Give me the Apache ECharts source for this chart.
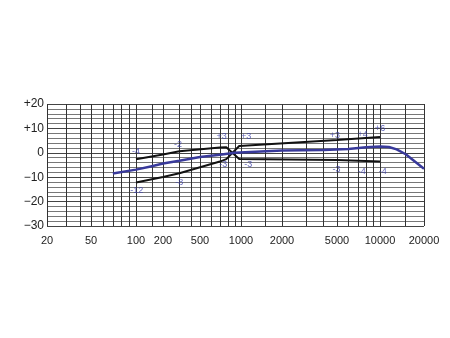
<!DOCTYPE html>
<html>
<head>
<meta charset="utf-8">
<script src="https://cdn.jsdelivr.net/npm/echarts@6/dist/echarts.min.js"></script>
<style>html,body{margin:0;padding:0;background:#fff}#c{width:450px;height:338px}</style>
</head>
<body>
<div id="c"></div>
<script>
// Frequency scale of the original (hand-laid, roughly logarithmic between labelled ticks)
const scaleFreqs = [20, 50, 100, 200, 500, 1000, 2000, 5000, 10000, 20000];
const scaleUnits = [0, 44, 89, 116, 153, 194, 235, 290, 333, 377];
const xTickLabels = ['20', '50', '100', '200', '500', '1000', '2000', '5000', '10000', '20000'];
const gridFreqs = [20,30,40,50,60,70,80,90,100,150,200,300,400,500,600,700,800,900,1000,1500,2000,3000,4000,5000,6000,7000,8000,9000,10000,15000,20000];
const yTickValues = [20, 10, 0, -10, -20, -30];
const yTickLabels = ['+20', '+10', '0', '\u221210', '\u221220', '\u221230'];

// Blue response curve
const blueFreq = [70, 100, 150, 200, 300, 500, 700, 900, 1400, 2000, 4000, 6000, 8000, 10000, 11500, 13000, 15000, 20000];
const blueDb   = [-8.5, -6.9, -5.5, -4.4, -3.3, -1.7, -0.8, 0.0, 0.5, 0.9, 1.1, 1.6, 2.3, 2.6, 2.4, 1.4, -0.6, -6.5];

// Black curve A (upper-left, lower-right)
const aFreq = [100, 200, 300, 700, 780, 970, 5000, 10000];
const aDb   = [-2.6, -0.7, 0.6, 2.2, 2.3, -2.5, -2.9, -3.6];
// Black curve B (lower-left, upper-right)
const bFreq = [100, 200, 300, 700, 780, 970, 5000, 10000];
const bDb   = [-12.2, -9.9, -8.4, -3.6, -2.6, 2.8, 5.2, 6.5];

// Blue annotations
const annoText = ['-4', '-2', '+3', '+3', '-3', '-3', '-8', '-12', '+3', '+4', '+6', '-3', '-4', '-4'];
const annoFreq = [100, 290, 720, 1090, 740, 1130, 300, 102, 4830, 7560, 10000, 4950, 7440, 10430];
const annoDb   = [0.7, 3.6, 6.6, 6.6, -5, -5, -12.3, -15.5, 6.9, 7.6, 9.8, -6.8, -7.5, -7.5];

function pos(f) {
  for (let i = 0; i < scaleFreqs.length - 1; i++) {
    const f0 = scaleFreqs[i], f1 = scaleFreqs[i + 1];
    if (f <= f1 || i === scaleFreqs.length - 2) {
      const t = Math.log(f / f0) / Math.log(f1 / f0);
      return scaleUnits[i] + t * (scaleUnits[i + 1] - scaleUnits[i]);
    }
  }
}
function pairs(fs, ds) { return fs.map((f, i) => [pos(f), ds[i]]); }

const labelFont = { fontFamily: 'Liberation Sans, Arial, sans-serif', fontSize: 11, color: '#222' };

const chart = echarts.init(document.getElementById('c'), null, { renderer: 'canvas' });
chart.setOption({
  animation: false,
  backgroundColor: '#fff',
  grid: { left: 47, right: 26, top: 104, bottom: 112, show: false },
  xAxis: {
    type: 'value',
    min: scaleUnits[0],
    max: scaleUnits[scaleUnits.length - 1],
    axisLine: { show: false },
    axisTick: { show: false, customValues: gridFreqs.map(pos) },
    splitLine: { show: true, lineStyle: { color: '#333', width: 1 } },
    axisLabel: Object.assign({
      customValues: scaleFreqs.map(pos),
      margin: 9,
      formatter: function (v) {
        let best = 0, bd = Infinity;
        scaleFreqs.forEach((f, i) => { const d = Math.abs(pos(f) - v); if (d < bd) { bd = d; best = i; } });
        return xTickLabels[best];
      }
    }, labelFont)
  },
  yAxis: {
    type: 'value',
    min: -30, max: 20, interval: 10,
    axisLine: { show: false },
    axisTick: { show: false },
    splitLine: { show: true, lineStyle: { color: '#444', width: 1 } },
    minorTick: { show: false, splitNumber: 5 },
    minorSplitLine: { show: true, lineStyle: { color: '#777', width: 1 } },
    axisLabel: Object.assign({
      margin: 3,
      fontSize: 12,
      formatter: function (v) {
        const i = yTickValues.indexOf(Math.round(v));
        return i >= 0 ? yTickLabels[i] : '';
      }
    }, labelFont, { fontSize: 12 })
  },
  series: [
    { type: 'line', data: pairs(aFreq, aDb), showSymbol: false, lineStyle: { color: '#111', width: 2 }, z: 3 },
    { type: 'line', data: pairs(bFreq, bDb), showSymbol: false, lineStyle: { color: '#111', width: 2 }, z: 3 },
    { type: 'line', data: pairs(blueFreq, blueDb), showSymbol: false, smooth: false, lineStyle: { color: '#38399a', width: 2.5, join: 'round' }, z: 4 },
    {
      type: 'scatter', symbolSize: 0, z: 5,
      data: pairs(annoFreq, annoDb),
      label: {
        show: true, position: 'inside', fontSize: 9, color: '#3b3fa8',
        fontFamily: 'Liberation Sans, Arial, sans-serif',
        formatter: p => annoText[p.dataIndex]
      }
    }
  ]
});
</script>
</body>
</html>
